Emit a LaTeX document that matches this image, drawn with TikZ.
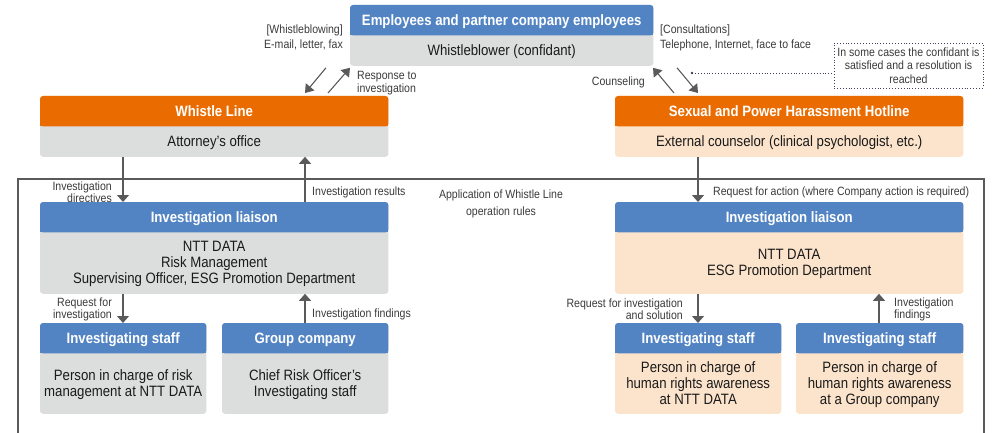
\documentclass[tikz,border=0pt]{standalone}
\usepackage{fontspec}
\setmainfont{Liberation Sans}[FakeStretch=0.88]
\usetikzlibrary{arrows.meta}
\pgfdeclarelayer{background}
\pgfsetlayers{background,main}
\definecolor{hblue}{HTML}{5284C4}
\definecolor{horange}{HTML}{EA6C00}
\definecolor{gbody}{HTML}{DCDDDD}
\definecolor{pbody}{HTML}{FCE4CC}
\definecolor{txt}{HTML}{1A1A1A}
\definecolor{labc}{HTML}{3A3A3A}
\definecolor{linec}{HTML}{5A5A5A}
\definecolor{dotc}{HTML}{40405A}
\tikzset{
  hd/.style={inner sep=0pt, minimum height=30pt, text=white, font=\bfseries\fontsize{15}{17}\selectfont},
  bd/.style={inner sep=0pt, text=txt, font=\fontsize{15}{15.8}\selectfont},
  lab/.style={inner sep=0pt, yshift=-1.2pt, text=labc, font=\fontsize{12}{15}\selectfont},
  arr/.style={draw=linec, line width=1.3pt, -{Triangle[width=12pt,length=7pt]}},
  darr/.style={draw=linec, line width=1.1pt, -{Triangle[width=11pt,length=8pt]}},
  frame/.style={draw=linec, line width=1.3pt},
  notebox/.style={draw=dotc, dotted, line width=0.9pt, inner sep=0pt, align=center, text=labc, font=\fontsize{12}{13.3}\selectfont},
  noteline/.style={draw=dotc, dotted, line width=0.9pt}
}
\newcommand\lowered[1]{\raisebox{-1.5pt}[\height][\depth]{\begin{tabular}{@{}c@{}}#1\end{tabular}}}
\newcommand\tbox[9]{%
  \node[hd, minimum width=#4pt-#2pt, anchor=north west] (#1H) at (#2,#3) {\lowered{#8}};
  \node[bd, minimum width=#4pt-#2pt, minimum height=#5pt-#3pt-30pt, anchor=north west] (#1B) at (#1H.south west) {\lowered{#9}};
  \begin{pgfonlayer}{background}
    \fill[#7, rounded corners=3pt] (#1H.north west) rectangle (#1B.south east);
    \fill[#6, rounded corners=3pt] (#1H.north west) rectangle (#1H.south east);
    \fill[#6] (#1H.west) rectangle (#1H.south east);
  \end{pgfonlayer}}
\begin{document}
\begin{tikzpicture}[x=1pt, y=-1pt]
\useasboundingbox (0,0) rectangle (993,433);
% frame
\draw[frame] (18,433) -- (18,179) -- (984,179) -- (984,433);
% boxes
\tbox{emp}{350}{5}{653}{65}{hblue}{gbody}{Employees and partner company employees}{Whistleblower (confidant)}
\tbox{wl}{40}{96}{388}{156}{horange}{gbody}{Whistle Line}{Attorney’s office}
\tbox{hot}{615}{96}{963}{156}{horange}{pbody}{Sexual and Power Harassment Hotline}{External counselor (clinical psychologist, etc.)}
\tbox{lia}{40}{202}{388}{293}{hblue}{gbody}{Investigation liaison}{NTT DATA\\Risk Management\\Supervising Officer, ESG Promotion Department}
\tbox{st}{40}{323}{206}{413}{hblue}{gbody}{Investigating staff}{Person in charge of risk\\management at NTT DATA}
\tbox{grp}{222}{323}{388}{413}{hblue}{gbody}{Group company}{Chief Risk Officer’s\\Investigating staff}
\tbox{rlia}{615}{202}{963}{293}{hblue}{pbody}{Investigation liaison}{NTT DATA\\ESG Promotion Department}
\tbox{rsta}{615}{323}{781}{413}{hblue}{pbody}{Investigating staff}{Person in charge of\\human rights awareness\\at NTT DATA}
\tbox{rstb}{796}{323}{963}{413}{hblue}{pbody}{Investigating staff}{Person in charge of\\human rights awareness\\at a Group company}
% x positions
\coordinate (xa) at (123,0);
\coordinate (xb) at (305,0);
\coordinate (xc) at (698,0);
\coordinate (xd) at (879,0);
\coordinate (d1) at (326,0);
\coordinate (d2) at (328,0);
\coordinate (d3) at (350,0);
\coordinate (d4) at (674,0);
\coordinate (d5) at (653,0);
\coordinate (d6) at (677,0);
% vertical arrows
\draw[arr] (wlB.south -| xa) -- (liaH.north -| xa);
\draw[arr] (liaH.north -| xb) -- (wlB.south -| xb);
\draw[arr] (liaB.south -| xa) -- (stH.north -| xa);
\draw[arr] (grpH.north -| xb) -- (liaB.south -| xb);
\draw[arr] (hotB.south -| xc) -- (rliaH.north -| xc);
\draw[arr] (rliaB.south -| xc) -- (rstaH.north -| xc);
\draw[arr] (rstbH.north -| xd) -- (rliaB.south -| xd);
% diagonal arrows
\draw[darr] ([yshift=-2pt]empB.south -| d1) -- ([yshift=3pt]wlH.north -| xb);
\draw[darr] ([yshift=3pt]wlH.north -| d2) -- ([yshift=-2pt]empB.south -| d3);
\draw[darr] ([yshift=3pt]hotH.north -| d4) -- ([yshift=-2pt]empB.south -| d5);
\draw[darr] ([yshift=-2pt]empB.south -| d6) -- ([yshift=3pt]hotH.north -| xc);
% note
\node[notebox, minimum width=149pt, minimum height=45pt] (note) at (908.5,65.5) {In some cases the confidant is\\satisfied and a resolution is\\reached};
\coordinate (ndot) at (692,73);
\draw[noteline] (ndot) -- (ndot -| note.west);
\fill[dotc] (ndot) circle (1.4pt);
% labels
\node[lab, align=right, anchor=east] (l1) at (343,36.5) {[Whistleblowing]\\E-mail, letter, fax};
\node[lab, align=left, anchor=west, font=\fontsize{12}{13}\selectfont] (l2) at (357,81.5) {Response to\\investigation};
\node[lab, align=left, anchor=west] (l3) at (660,36.5) {[Consultations]\\Telephone, Internet, face to face};
\node[lab, anchor=east] (l4) at (645,81) {Counseling};
\node[lab, align=right, anchor=east, font=\fontsize{12}{10.8}\selectfont] (l5) at (112,191) {Investigation\\directives};
\node[lab, anchor=west] (l6) at (312,191.5) {Investigation results};
\node[lab, align=center, font=\fontsize{12}{16.5}\selectfont] (l7) at (501,202.5) {Application of Whistle Line\\operation rules};
\node[lab, anchor=west] (l8) at (713,191.5) {Request for action (where Company action is required)};
\node[lab, align=right, anchor=east, font=\fontsize{12}{12.5}\selectfont] (l9) at (112,308) {Request for\\investigation};
\node[lab, anchor=west] (l10) at (312,313) {Investigation findings};
\node[lab, align=right, anchor=east, font=\fontsize{12}{12.5}\selectfont] (l11) at (683,308) {Request for investigation\\and solution};
\node[lab, align=left, anchor=west, font=\fontsize{12}{12.5}\selectfont] (l12) at (894,308) {Investigation\\findings};
\end{tikzpicture}
\end{document}
